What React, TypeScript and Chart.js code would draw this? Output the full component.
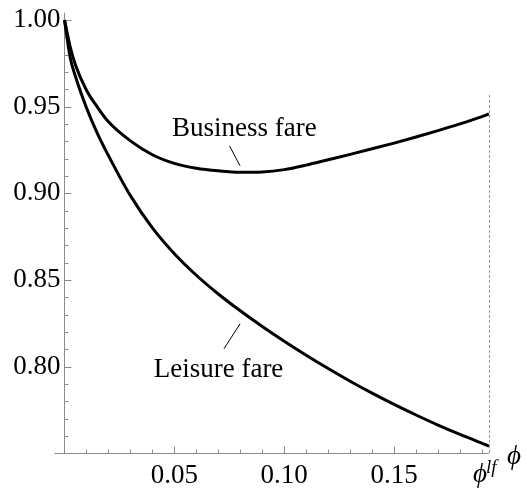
import React, { useEffect, useRef } from 'react';
import { Chart, registerables } from 'chart.js';

Chart.register(...registerables);

// ---- data ----
const phiValues = [0, 0.0025, 0.005, 0.01, 0.015, 0.02, 0.03, 0.04, 0.05, 0.06, 0.07, 0.08, 0.09, 0.10, 0.11, 0.12, 0.13, 0.14, 0.15, 0.16, 0.17, 0.18, 0.19, 0.1932];
const businessFare = [1, 0.985, 0.974, 0.9595, 0.9497, 0.9413, 0.9303, 0.9223, 0.9173, 0.9145, 0.913, 0.9122, 0.9124, 0.9137, 0.9163, 0.9194, 0.9225, 0.9257, 0.929, 0.9325, 0.9362, 0.9401, 0.9443, 0.9458];
const leisureFare = [1, 0.9788, 0.9674, 0.9494, 0.9345, 0.9218, 0.8987, 0.8801, 0.8652, 0.8528, 0.842, 0.8323, 0.8233, 0.8148, 0.8067, 0.799, 0.7917, 0.7848, 0.7783, 0.7722, 0.7664, 0.761, 0.7559, 0.7543];

const xTickValues = [0.05, 0.1, 0.15];
const xTickLabels = ['0.05', '0.10', '0.15'];
const yTickValues = [0.8, 0.85, 0.9, 0.95, 1.0];
const yTickLabels = ['0.80', '0.85', '0.90', '0.95', '1.00'];

const PHI_LF = 0.1932;
const X_MIN = 0;
const X_MAX = 0.1932;
const Y_MIN = 0.75;
const Y_MAX = 1.0042;
const DASH_TOP = 0.9568;

const seriesNames = ['Business fare', 'Leisure fare'];
// annotation text anchors (data coords) and connector segments
const annotations = [
  { text: 'Business fare', x: 0.0819, y: 0.9331, from: [0.0751, 0.9274], to: [0.0799, 0.9159] },
  { text: 'Leisure fare', x: 0.0701, y: 0.7944, from: [0.0799, 0.8248], to: [0.0726, 0.8104] },
];

const SERIF = "'Liberation Serif', 'Times New Roman', 'DejaVu Serif', serif";
const AXIS_COLOR = '#8a8a8a';

function minorTicks(from: number, to: number, step: number, skip: number[]) {
  const out: number[] = [];
  const n = Math.round((to - from) / step);
  for (let i = 0; i <= n; i++) {
    const v = +(from + i * step).toFixed(4);
    if (!skip.some((s) => Math.abs(s - v) < 1e-6)) out.push(v);
  }
  return out;
}

const decorPlugin = {
  id: 'decor',
  beforeDatasetsDraw(chart: any) {
    const { ctx, chartArea, scales } = chart;
    const { left, right, top, bottom } = chartArea;
    const x = scales.x;
    const y = scales.y;
    ctx.save();
    ctx.strokeStyle = AXIS_COLOR;
    ctx.lineWidth = 1;
    ctx.beginPath();
    ctx.moveTo(left - 10, bottom);
    ctx.lineTo(right, bottom);
    ctx.moveTo(left, top);
    ctx.lineTo(left, bottom);
    ctx.stroke();

    // ticks (inward)
    ctx.beginPath();
    for (const v of xTickValues) {
      const px = Math.round(x.getPixelForValue(v)) + 0.5;
      ctx.moveTo(px, bottom);
      ctx.lineTo(px, bottom - 7);
    }
    for (const v of minorTicks(0.01, 0.19, 0.01, xTickValues)) {
      const px = Math.round(x.getPixelForValue(v)) + 0.5;
      ctx.moveTo(px, bottom);
      ctx.lineTo(px, bottom - 4);
    }
    for (const v of yTickValues) {
      const py = Math.round(y.getPixelForValue(v)) + 0.5;
      ctx.moveTo(left, py);
      ctx.lineTo(left + 7, py);
    }
    for (const v of minorTicks(0.76, 0.99, 0.01, yTickValues)) {
      const py = Math.round(y.getPixelForValue(v)) + 0.5;
      ctx.moveTo(left, py);
      ctx.lineTo(left + 4, py);
    }
    ctx.stroke();

    // dashed marker at phi^lf
    const dx = Math.round(x.getPixelForValue(PHI_LF)) + 0.5;
    ctx.strokeStyle = '#999999';
    ctx.setLineDash([3, 2]);
    ctx.beginPath();
    ctx.moveTo(dx, y.getPixelForValue(DASH_TOP));
    ctx.lineTo(dx, bottom);
    ctx.stroke();
    ctx.restore();
  },
  afterDatasetsDraw(chart: any) {
    const { ctx, chartArea, scales } = chart;
    const { right, bottom } = chartArea;
    const x = scales.x;
    const y = scales.y;
    ctx.save();
    ctx.fillStyle = '#000';
    ctx.strokeStyle = '#000';
    ctx.lineWidth = 1;
    ctx.font = `27px ${SERIF}`;
    ctx.textAlign = 'center';
    ctx.textBaseline = 'alphabetic';
    for (const a of annotations) {
      ctx.fillText(a.text, x.getPixelForValue(a.x), y.getPixelForValue(a.y));
      ctx.beginPath();
      ctx.moveTo(x.getPixelForValue(a.from[0]), y.getPixelForValue(a.from[1]));
      ctx.lineTo(x.getPixelForValue(a.to[0]), y.getPixelForValue(a.to[1]));
      ctx.stroke();
    }
    // phi^lf tick label
    const lx = x.getPixelForValue(PHI_LF);
    ctx.textAlign = 'left';
    ctx.font = `italic 27px ${SERIF}`;
    ctx.fillText('\u03D5', lx - 16, bottom + 28);
    ctx.font = `italic 19px ${SERIF}`;
    ctx.fillText('lf', lx - 3, bottom + 19);
    // axis label
    ctx.font = `italic 27px ${SERIF}`;
    ctx.fillText('\u03D5', right + 18, bottom + 10);
    ctx.restore();
  },
};

export default function App() {
  const ref = useRef<HTMLCanvasElement>(null);
  useEffect(() => {
    document.body.style.margin = '0';
    const canvas = ref.current;
    if (!canvas) return;
    const chart = new Chart(canvas, {
      type: 'line',
      data: {
        datasets: [
          {
            label: seriesNames[0],
            data: phiValues.map((p, i) => ({ x: p, y: businessFare[i] })),
            borderColor: '#000',
            borderWidth: 3,
            pointRadius: 0,
            cubicInterpolationMode: 'monotone',
            fill: false,
          },
          {
            label: seriesNames[1],
            data: phiValues.map((p, i) => ({ x: p, y: leisureFare[i] })),
            borderColor: '#000',
            borderWidth: 3,
            pointRadius: 0,
            cubicInterpolationMode: 'monotone',
            fill: false,
          },
        ],
      },
      options: {
        animation: false,
        responsive: false,
        devicePixelRatio: 1,
        clip: false as any,
        layout: { padding: { left: 0, right: 37, top: 12.7, bottom: 0 } },
        plugins: { legend: { display: false }, tooltip: { enabled: false } },
        scales: {
          x: {
            type: 'linear',
            min: X_MIN,
            max: X_MAX,
            grid: { display: false, drawTicks: false },
            border: { display: false },
            afterBuildTicks: (axis: any) => {
              axis.ticks = xTickValues.map((value) => ({ value }));
            },
            afterFit: (axis: any) => {
              axis.height = 35.5;
              axis.paddingLeft = 0;
              axis.paddingRight = 0;
            },
            ticks: {
              autoSkip: false,
              maxRotation: 0,
              padding: 6,
              color: '#000',
              font: { family: SERIF, size: 27 },
              callback: (_v: any, i: number) => xTickLabels[i],
            },
          },
          y: {
            type: 'linear',
            min: Y_MIN,
            max: Y_MAX,
            grid: { display: false, drawTicks: false },
            border: { display: false },
            afterBuildTicks: (axis: any) => {
              axis.ticks = yTickValues.map((value) => ({ value }));
            },
            afterFit: (axis: any) => {
              axis.width = 64.5;
              axis.paddingTop = 0;
              axis.paddingBottom = 0;
            },
            ticks: {
              autoSkip: false,
              padding: 4,
              color: '#000',
              font: { family: SERIF, size: 27 },
              callback: (_v: any, i: number) => yTickLabels[i],
            },
          },
        },
      },
      plugins: [decorPlugin],
    } as any);
    return () => chart.destroy();
  }, []);
  return (
    <div style={{ width: 526, height: 489 }}>
      <canvas ref={ref} width={526} height={489} style={{ display: 'block', width: 526, height: 489 }} />
    </div>
  );
}
